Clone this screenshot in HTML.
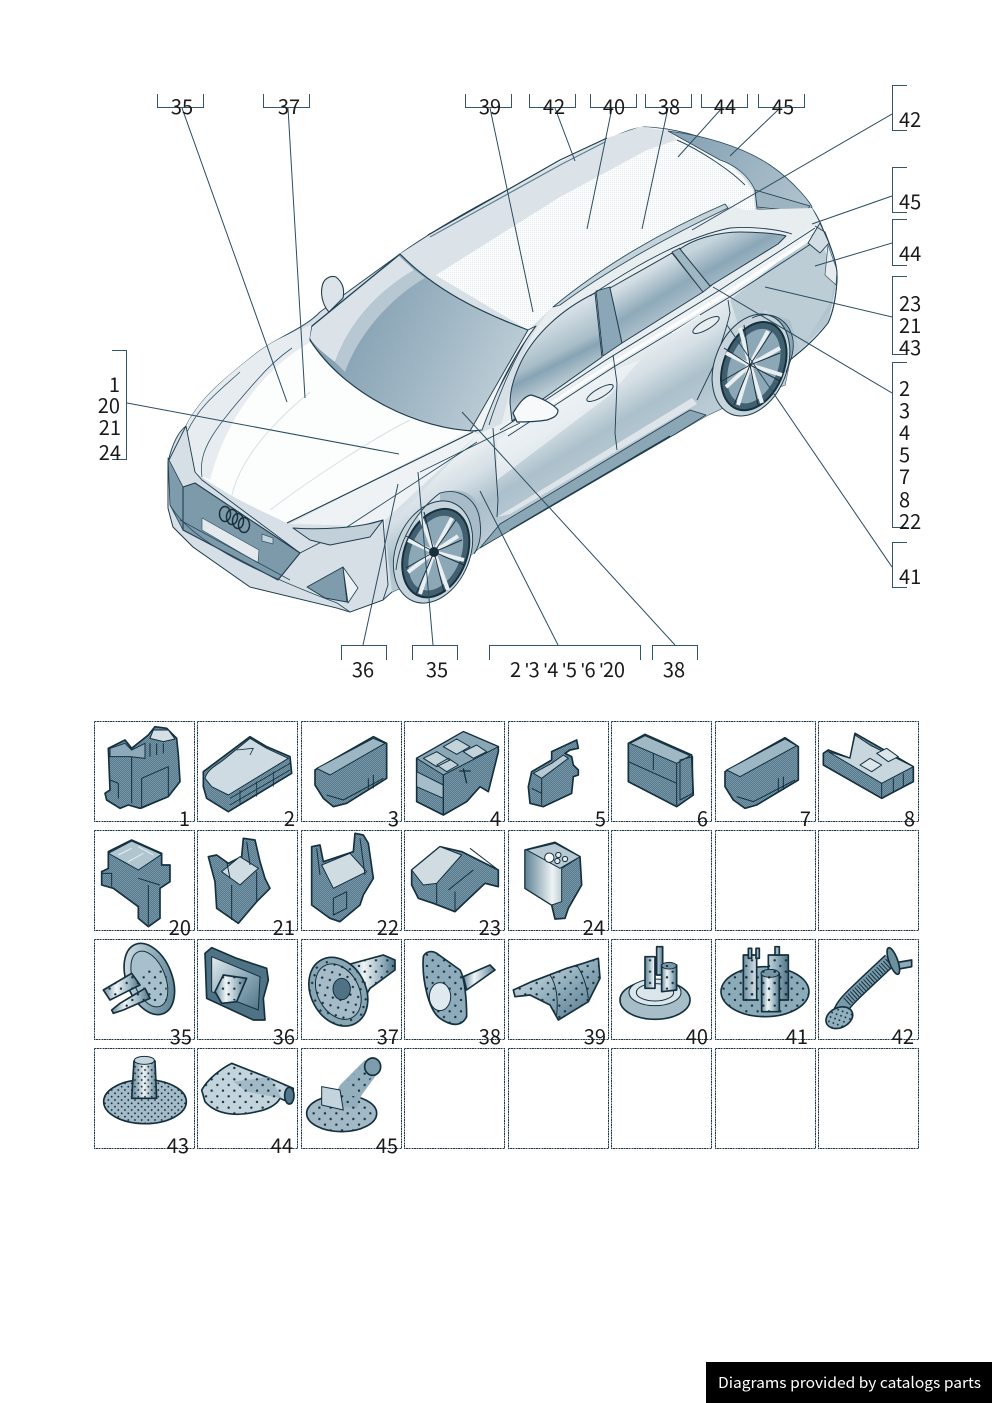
<!DOCTYPE html>
<html lang="en"><head><meta charset="utf-8"><title>Diagram</title>
<style>html,body{margin:0;padding:0;background:#fff}svg{display:block}text{font-family:"Noto Sans CJK SC","Liberation Sans",sans-serif;font-size:20px;fill:#1a1a1a}</style></head>
<body>
<svg xmlns="http://www.w3.org/2000/svg" width="992" height="1403" viewBox="0 0 992 1403">
<defs>
<pattern id="st" width="6" height="6" patternUnits="userSpaceOnUse"><rect width="6" height="6" fill="#7798a8"/><rect width="3" height="3" fill="#57798b"/><rect x="3" y="3" width="3" height="3" fill="#57798b"/></pattern>
<pattern id="dots" width="34" height="34" patternUnits="userSpaceOnUse"><circle cx="8" cy="8" r="3.600" fill="#15303f"/><circle cx="25" cy="25" r="3.600" fill="#15303f"/></pattern>
<pattern id="dots2" width="20" height="20" patternUnits="userSpaceOnUse"><circle cx="5" cy="5" r="2.800" fill="#15303f"/><circle cx="15" cy="15" r="2.800" fill="#15303f"/></pattern>
<pattern id="rf" width="2" height="2" patternUnits="userSpaceOnUse"><rect width="2" height="2" fill="#fcfdfd"/><rect width="1" height="1" fill="#e6ebef"/></pattern>
<linearGradient id="ws" gradientUnits="userSpaceOnUse" x1="350" y1="325" x2="500" y2="400"><stop offset="0" stop-color="#86a2b4"/><stop offset=".5" stop-color="#9fb6c4"/><stop offset="1" stop-color="#bccdd6"/></linearGradient>
<linearGradient id="side" gradientUnits="userSpaceOnUse" x1="620" y1="340" x2="680" y2="440"><stop offset="0" stop-color="#f6f8f9"/><stop offset=".35" stop-color="#d5dfe5"/><stop offset=".6" stop-color="#abc0cb"/><stop offset="1" stop-color="#c0cfd8"/></linearGradient>
<linearGradient id="glass" gradientUnits="userSpaceOnUse" x1="560" y1="310" x2="590" y2="370"><stop offset="0" stop-color="#dce4e9"/><stop offset=".55" stop-color="#a9bec9"/><stop offset=".7" stop-color="#87a3b4"/><stop offset="1" stop-color="#b9cad3"/></linearGradient>
<linearGradient id="glass2" gradientUnits="userSpaceOnUse" x1="640" y1="275" x2="670" y2="325"><stop offset="0" stop-color="#d5dfe5"/><stop offset=".5" stop-color="#8ea9b9"/><stop offset="1" stop-color="#b9cad3"/></linearGradient>
<linearGradient id="glass3" gradientUnits="userSpaceOnUse" x1="720" y1="235" x2="745" y2="280"><stop offset="0" stop-color="#c7d5dc"/><stop offset=".5" stop-color="#8aa6b7"/><stop offset="1" stop-color="#b3c6d0"/></linearGradient>
<linearGradient id="spo" gradientUnits="userSpaceOnUse" x1="690" y1="130" x2="800" y2="210"><stop offset="0" stop-color="#87a3b5"/><stop offset="1" stop-color="#afc2cd"/></linearGradient>
<linearGradient id="rg" x1="0" y1="0" x2="1" y2="0"><stop offset="0" stop-color="#5f8394"/><stop offset=".5" stop-color="#eef3f5"/><stop offset="1" stop-color="#5f8394"/></linearGradient>
<linearGradient id="rg2" x1="0" y1="0" x2="1" y2="1"><stop offset="0" stop-color="#e4ecef"/><stop offset=".55" stop-color="#8aa8b7"/><stop offset="1" stop-color="#507485"/></linearGradient>
<linearGradient id="rg3" x1="0" y1="0" x2="1" y2="0"><stop offset="0" stop-color="#6b8ea0"/><stop offset=".35" stop-color="#f0f5f6"/><stop offset=".7" stop-color="#9fb8c4"/><stop offset="1" stop-color="#4f7385"/></linearGradient>
</defs>
<rect width="992" height="1403" fill="#fff"/>

<!-- CAR -->
<g stroke-linejoin="round">
<path d="M168 462C172 445 178 432 186 426C200 398 225 378 258 352C280 336 305 328 320 312L400 254C455 215 530 178 575 156C600 145 625 128 645 127C680 128 720 142 755 158C790 178 815 205 824 232C832 250 838 265 837 280C836 300 832 315 828 323C815 340 800 352 790 360L785 385L740 400L708 415L677 433L500 530L470 556L392 592L383 600L350 612L337 608L250 587L193 547L173 527L168 508Z" fill="#d6e0e6" stroke="#2a4a5c" stroke-width="1"/>
<!-- roof -->
<path d="M400 254L428 236C480 205 560 160 607 138L640 127C660 127 680 132 700 137L743 177L753 190L755 210L743 210L728 205L553 307L528 330Z" fill="url(#rf)"/>
<path d="M400 254L428 236C480 205 560 160 607 138L640 127L670 131L677 140L647 150L560 197L433 277Z" fill="#dbe3e9"/>
<path d="M668 131C700 135 740 145 770 165C795 182 812 205 812 207L808 211C790 209 770 210 757 209L755 190C748 175 735 165 720 160Z" fill="url(#spo)" stroke="#2a4a5c" stroke-width=".8"/>
<path d="M755 190L810 206L806 212L757 207Z" fill="#9cb3c0" stroke="#1f3d4e" stroke-width=".8"/>
<path d="M677 140C700 150 730 170 745 185" fill="none" stroke="#2a4a5c"/>
<path d="M428 235L560 160L607 138" fill="none" stroke="#1f3d4e" stroke-width="1.2"/>
<path d="M430 237L562 164L605 142" fill="none" stroke="#5f8090" stroke-width="1.2"/>
<!-- side band above windows -->
<path d="M553 307C600 270 660 235 725 205L745 210L812 208L820 224L720 290L606 360L520 420L500 430C510 390 525 335 553 307Z" fill="#e8edf0"/>
<path d="M553 307C600 268 660 232 725 204L728 208C665 238 605 272 560 305Z" fill="#c5d3db" stroke="#2a4a5c" stroke-width=".9"/>
<!-- side body -->
<path d="M478 434L510 420L600 365L720 290L815 226L828 245L837 280L828 323L790 360L785 385L740 400L708 415L677 433L500 530L470 556L392 592L385 530Z" fill="url(#side)"/>
<path d="M730 300L815 232L835 270L832 300L800 350L790 320L765 310L740 330Z" fill="#bccdd6"/>
<path d="M497 440C520 425 590 380 614 370L640 360L610 395L497 480Z" fill="#f0f4f6" opacity=".7"/>
<path d="M500 524L690 410L706 415L677 433L480 548Z" fill="#8ba6b5" stroke="#1f3d4e" stroke-width=".8"/>
<path d="M497 517L692 398L697 404L510 514Z" fill="#dde5ea"/>
<path d="M510 530L670 436" stroke="#1f3d4e" stroke-width="1.300" fill="none"/>
<!-- windows -->
<path d="M595 293C560 310 535 335 522 360C513 378 510 392 510 403L512 421L602 357Z" fill="url(#glass)" stroke="#1f3d4e" stroke-width="1"/>
<path d="M596 291L610 287L622 343L603 356Z" fill="#8ba7b7" stroke="#1f3d4e" stroke-width=".9"/>
<path d="M610 288L672 253L703 292L622 343Z" fill="url(#glass2)" stroke="#1f3d4e" stroke-width="1"/>
<path d="M672 252L680 248L712 285L703 292Z" fill="#9fb6c3" stroke="#1f3d4e" stroke-width=".8"/>
<path d="M680 249C695 238 720 232 740 232C760 232 780 234 786 236L778 244L710 286Z" fill="url(#glass3)" stroke="#1f3d4e" stroke-width="1"/>
<path d="M590 296C640 262 690 236 730 228C755 226 780 230 792 234" fill="none" stroke="#1f3d4e" stroke-width=".9"/>
<!-- belt -->
<path d="M500 430L606 360L720 290L815 228" fill="none" stroke="#1f3d4e" stroke-width=".9"/>
<path d="M508 436L612 368L728 298L820 238" fill="none" stroke="#1f3d4e" stroke-width=".9"/>
<path d="M506 431L610 363L724 293L817 232L819 235L726 296L611 366L507 434Z" fill="#fff"/>
<!-- hood -->
<path d="M186 426C200 398 225 378 258 352C280 336 300 330 312 325L310 340C340 385 410 425 470 431L287 523C255 508 220 492 193 470Z" fill="#fcfdfd"/>
<path d="M186 426C200 398 225 378 258 352C280 336 300 330 312 325L318 338C275 360 230 405 210 480L193 470Z" fill="#e6ecf0"/>
<path d="M470 431L478 434L385 520L385 528L330 525L290 524Z" fill="#eef2f5"/>
<path d="M287 523L473 432" fill="none" stroke="#1f3d4e" stroke-width="1.100"/>
<path d="M347 527L477 442M420 472L520 423" fill="none" stroke="#2a4a5c" stroke-width=".9"/>
<path d="M202 477C198 450 213 430 257 380C270 365 282 355 292 348M187 432C186 455 190 465 195 472M187 432C200 405 218 392 240 372" fill="none" stroke="#33566a" stroke-width=".8"/>
<path d="M232 495C240 460 270 425 310 392M270 510C310 480 370 440 410 420" fill="none" stroke="#d7e0e6" stroke-width="1"/>
<!-- windshield -->
<path d="M400 254C435 290 480 312 528 330C515 360 495 395 476 431C420 430 345 395 310 340L312 326Z" fill="url(#ws)" stroke="#1f3d4e" stroke-width="1.200"/>
<path d="M399 256L414 270C380 290 350 320 335 362C322 352 314 345 310 338L312 327Z" fill="#dbe3e9"/>
<path d="M414 270C380 290 350 320 335 362L345 372C360 330 395 295 425 278Z" fill="#b7c8d2"/>
<!-- A pillar -->
<path d="M528 330L536 326C510 360 495 395 482 430L470 431Z" fill="#f1f4f6" stroke="#1f3d4e" stroke-width=".9"/>
<path d="M536 326C520 345 500 390 489 425" fill="none" stroke="#1f3d4e" stroke-width=".8"/>
<!-- left mirror -->
<path d="M322 287C323 279 330 275 336 277C342 282 345 288 343 298L329 312C325 308 320 298 322 287Z" fill="#dce4e9" stroke="#1f3d4e" stroke-width="1.100"/>
<!-- right mirror -->
<path d="M513 413C518 405 524 396 531 395C542 398 553 404 558 410C558 416 553 418 547 420C535 422 525 422 517 422Z" fill="#f7f9fa" stroke="#1f3d4e" stroke-width="1.200"/>
<!-- door lines -->
<path d="M493 428L498 500L497 517M613 355L617 383L615 433L617 450M728 300L730 313C725 335 718 352 713 367L697 400" fill="none" stroke="#1f3d4e" stroke-width=".9"/>
<ellipse cx="600" cy="393" rx="15" ry="4.500" transform="rotate(-30 600 393)" fill="#e8edf0" stroke="#1f3d4e"/>
<ellipse cx="706" cy="325" rx="15" ry="4.500" transform="rotate(-30 706 325)" fill="#e8edf0" stroke="#1f3d4e"/>
<path d="M672 333L700 315" stroke="#fff" stroke-width="1"/>
<!-- front end -->
<path d="M168 462L186 426L195 472L202 480L300 553L345 530L383 520L388 585L383 600L350 612L337 608L250 587L193 547L173 527L168 508Z" fill="#d5dfe5" stroke="#1f3d4e" stroke-width=".9"/>
<path d="M168 458L183 487L183 530L170 505Z" fill="#7f9cad" stroke="#1f3d4e" stroke-width=".8"/>
<path d="M183 487L195 483L300 553L278 580L183 530Z" fill="#7d9aab" stroke="#1f3d4e" stroke-width="1.100"/>
<path d="M202 518L259 550L258 563L202 530Z" fill="#e4e9ed" stroke="#33566a" stroke-width=".7"/>
<g fill="none" stroke="#1a2f3c" stroke-width="1.500"><ellipse cx="225" cy="514" rx="5.500" ry="7.500"/><ellipse cx="232" cy="517" rx="5.500" ry="7.500"/><ellipse cx="238" cy="521" rx="5.500" ry="7.500"/><ellipse cx="244" cy="525" rx="5.500" ry="7.500"/></g>
<path d="M262 534L273 538L273 544L262 541Z" fill="#c5d3db" stroke="#33566a" stroke-width=".7"/>
<path d="M293 528C320 530 360 528 383 520L370 537L330 545L310 540Z" fill="#c2d0d9" stroke="#1f3d4e" stroke-width="1"/>
<path d="M307 587L343 567L347 602L325 598Z" fill="#7f9cad" stroke="#1f3d4e" stroke-width="1"/>
<path d="M343 567L358 588L348 603Z" fill="#eef2f5" stroke="#1f3d4e" stroke-width=".8"/>
<path d="M170 505C190 540 250 570 337 603L350 612M180 520L290 580" fill="none" stroke="#2a4a5c" stroke-width=".8"/>
<!-- front wheel -->
<path d="M440 493C455 488 472 490 478 505C485 525 480 545 475 553L470 556L440 580Z" fill="#a7bcc8"/>
<g transform="rotate(22 433 552)"><ellipse cx="433" cy="552" rx="37" ry="53" fill="#c7d4db" stroke="#1f3d4e"/><ellipse cx="436" cy="552" rx="31" ry="46" fill="#425f70" stroke="#15303f" stroke-width="2"/><ellipse cx="436" cy="552" rx="25" ry="39" fill="#8ca7b6"/></g>
<g stroke="#e9eef1" stroke-width="4" fill="none"><path d="M434 552L452 518M434 552L458 536M434 552L464 560M434 552L448 590M434 552L420 594M434 552L408 572M434 552L408 540M434 552L420 515"/></g>
<g stroke="#1a2f3c" stroke-width="1" fill="none"><path d="M434 552L456 520M434 552L462 540M434 552L464 565M434 552L444 592M434 552L416 594M434 552L406 568M434 552L406 536M434 552L424 512"/></g>
<circle cx="434" cy="552" r="5" fill="#1a2f3c"/>
<path d="M440 493C460 487 478 500 480 522C482 538 478 548 474 554M396 570C400 535 420 508 440 493" fill="none" stroke="#1f3d4e" stroke-width=".9"/>
<!-- rear wheel -->
<path d="M752 318C770 310 790 318 792 340C795 352 790 362 786 372L770 390Z" fill="#8ba6b5"/>
<g transform="rotate(22 751 365)"><ellipse cx="751" cy="365" rx="36" ry="53" fill="#c7d4db" stroke="#1f3d4e"/><ellipse cx="754" cy="365" rx="30" ry="46" fill="#40606f" stroke="#15303f" stroke-width="2"/><ellipse cx="754" cy="365" rx="24" ry="39" fill="#8ca7b6"/></g>
<g stroke="#e9eef1" stroke-width="4" fill="none"><path d="M750 365L768 331M750 365L780 348M750 365L782 375M750 365L762 403M750 365L738 405M750 365L726 387M750 365L726 353M750 365L740 328"/></g>
<g stroke="#1a2f3c" stroke-width="1" fill="none"><path d="M750 365L772 331M750 365L780 353M750 365L780 381M750 365L758 405M750 365L734 405M750 365L722 381M750 365L724 348M750 365L744 325"/></g>
<path d="M752 318C772 308 796 322 793 350C792 358 790 362 786 372" fill="none" stroke="#1f3d4e" stroke-width=".9"/>
<!-- tail -->
<path d="M820 223L808 243L820 253L829 243Z" fill="#d3dee4" stroke="#1f3d4e" stroke-width=".9"/>
<path d="M828 245L837 270L836 285L825 275Z" fill="#e5ebef" stroke="#33566a" stroke-width=".7"/>
<path d="M815 226L825 232C832 250 838 265 837 280C836 300 832 315 828 323C815 340 800 352 790 360" fill="none" stroke="#1f3d4e" stroke-width=".9"/>
</g>

<!-- leaders -->
<g stroke="#2c4d60" stroke-width="1" fill="none">
<path d="M182 108L287 402M288 108L305 398M490 108L533 312M555 108L575 161M612 108L587 229M668 108L642 229M722 108L678 157M780 108L730 156"/>
<path d="M892 114L692 230M892 196L812 224M892 243L815 266M892 317L765 287M892 393L713 287M892 567L727 325M127 403L399 454"/>
<path d="M363 645L398 484M433 645L418 472M558 645L480 491M675 645L462 412"/>
</g>
<!-- brackets -->
<g stroke="#33566a" stroke-width="1" fill="none" shape-rendering="crispEdges">
<path d="M157.500 94V107.500H203.500V94M263.500 94V107.500H309.500V94M465.500 94V107.500H511.500V94M529.500 94V107.500H575.500V94M590.500 94V107.500H636.500V94M645.500 94V107.500H691.500V94M701.500 94V107.500H747.500V94M758.500 94V107.500H804.500V94"/>
<path d="M907 85.500H892.500V130.500H907M907 167.500H892.500V212.500H907M907 219.500H892.500V265.500H907M907 276.500H892.500V354.500H907M907 362.500H892.500V527.500H907M907 542.500H892.500V587.500H907"/>
<path d="M112 350.500H126.500V459.500H112"/>
<path d="M341.500 660V645.500H386.500V660M412.500 660V645.500H457.500V660M489.500 660V645.500H640.500V660M652.500 660V645.500H697.500V660"/>
</g>
<!-- top labels -->
<g text-anchor="middle">
<text x="182" y="114">35</text><text x="289" y="114">37</text><text x="490" y="114">39</text><text x="554" y="114">42</text><text x="614" y="114">40</text><text x="669" y="114">38</text><text x="725" y="114">44</text><text x="783" y="114">45</text>
<text x="363" y="677">36</text><text x="437" y="677">35</text><text x="674" y="677">38</text>
</g>
<text x="510" y="677" textLength="115">2 ʹ3 ʹ4 ʹ5 ʹ6 ʹ20</text>
<g>
<text x="899" y="127">42</text><text x="899" y="209">45</text><text x="899" y="261">44</text><text x="899" y="311">23</text><text x="899" y="333">21</text><text x="899" y="355">43</text>
<text x="899" y="396">2</text><text x="899" y="418">3</text><text x="899" y="440">4</text><text x="899" y="462">5</text><text x="899" y="484">7</text><text x="899" y="507">8</text><text x="899" y="529">22</text><text x="899" y="584">41</text>
</g>
<g text-anchor="end">
<text x="120" y="392">1</text><text x="120" y="413">20</text><text x="121" y="435">21</text><text x="121" y="460">24</text>
</g>

<!-- grid -->
<g fill="#fff" stroke="#1c3a4b" stroke-width="1" stroke-dasharray="2 .6" shape-rendering="crispEdges">
<rect x="94.500" y="721.500" width="100" height="100"/><rect x="197.500" y="721.500" width="100" height="100"/><rect x="301.500" y="721.500" width="100" height="100"/><rect x="404.500" y="721.500" width="100" height="100"/><rect x="508.500" y="721.500" width="100" height="100"/><rect x="611.500" y="721.500" width="100" height="100"/><rect x="715.500" y="721.500" width="100" height="100"/><rect x="818.500" y="721.500" width="100" height="100"/>
<rect x="94.500" y="830.500" width="100" height="100"/><rect x="197.500" y="830.500" width="100" height="100"/><rect x="301.500" y="830.500" width="100" height="100"/><rect x="404.500" y="830.500" width="100" height="100"/><rect x="508.500" y="830.500" width="100" height="100"/><rect x="611.500" y="830.500" width="100" height="100"/><rect x="715.500" y="830.500" width="100" height="100"/><rect x="818.500" y="830.500" width="100" height="100"/>
<rect x="94.500" y="939.500" width="100" height="100"/><rect x="197.500" y="939.500" width="100" height="100"/><rect x="301.500" y="939.500" width="100" height="100"/><rect x="404.500" y="939.500" width="100" height="100"/><rect x="508.500" y="939.500" width="100" height="100"/><rect x="611.500" y="939.500" width="100" height="100"/><rect x="715.500" y="939.500" width="100" height="100"/><rect x="818.500" y="939.500" width="100" height="100"/>
<rect x="94.500" y="1048.500" width="100" height="100"/><rect x="197.500" y="1048.500" width="100" height="100"/><rect x="301.500" y="1048.500" width="100" height="100"/><rect x="404.500" y="1048.500" width="100" height="100"/><rect x="508.500" y="1048.500" width="100" height="100"/><rect x="611.500" y="1048.500" width="100" height="100"/><rect x="715.500" y="1048.500" width="100" height="100"/><rect x="818.500" y="1048.500" width="100" height="100"/>
</g>

<!-- parts row 1-2 left -->
<g transform="translate(90 715) scale(.33333)" stroke="#14303f" stroke-width="5" stroke-linejoin="round">
<!-- 1 -->
<path d="M55 100L105 75L125 100L175 60L195 35L230 40L260 70L265 120L270 200L235 245L150 280L115 270L90 280L50 255L45 235L60 225Z" fill="url(#st)"/>
<path d="M125 100V265M155 190L235 155V245L155 280Z" fill="none" stroke-width="3"/>
<path d="M190 45L235 45L255 72L220 80L180 70Z" fill="#d5e0e6" stroke-width="3"/>
<path d="M60 100L105 85L125 105L165 85V130L120 125L60 125Z" fill="#8eaaba" stroke-width="3"/>
<path d="M180 85V125M200 85V120M220 85V115M60 195L85 205V250" fill="none" stroke-width="3"/>
<!-- 2 -->
<path d="M340 170L480 65L530 95L600 125L605 175L415 290L350 250L340 215Z" fill="url(#st)"/>
<path d="M345 190C350 165 380 150 400 135L480 70L530 100L595 130L415 240L365 215Z" fill="#cfdbe2" stroke-width="3"/>
<path d="M420 250L600 145M420 270L600 165M450 225V270M500 200V245M550 170V215M440 105L490 100L480 120" fill="none" stroke-width="2.500"/>
<!-- 3 -->
<path d="M675 165L850 65L890 85L890 190L770 265L730 275L700 250L675 210Z" fill="url(#st)"/>
<path d="M680 160L850 70L885 85L720 180Z" fill="#9db6c3" stroke-width="3"/>
<path d="M710 240L760 255L880 190M835 190V225M850 180V220" fill="none" stroke-width="3"/>
<!-- 4 -->
<path d="M980 130L1120 50L1225 95L1225 110L1195 230L1170 215L1130 260L1060 300L980 260Z" fill="url(#st)"/>
<path d="M980 130L1120 50L1225 95L1060 180Z" fill="#8aa7b6" stroke-width="3"/>
<path d="M1000 130L1040 110L1080 135L1040 155ZM1040 150L1075 130L1105 150L1070 170ZM1060 95L1100 72L1140 95L1100 118ZM1120 110L1160 90L1190 110L1150 130Z" fill="#c3d3da" stroke-width="3"/>
<path d="M980 170L1060 210V250L980 215Z" fill="#a5bdc9" stroke-width="3"/>
<path d="M1060 180V300M1120 160L1130 205M1108 168H1142" fill="none" stroke-width="4"/>
<!-- 20 -->
<path d="M55 410L125 375L215 415V450H240V500L210 520V610L175 635L145 610V575L70 520L35 510V470L55 460Z" fill="url(#st)"/>
<path d="M55 415L125 378L215 418L145 465Z" fill="#afc5d0" stroke-width="3"/>
<path d="M85 420L125 400M115 440L160 415M145 395L190 420" fill="none" stroke="#e8eef1" stroke-width="3"/>
<path d="M145 490L210 510M175 510V630M35 475H65V515" fill="none" stroke-width="3"/>
<!-- 21 -->
<path d="M355 425L380 420L415 445L455 425L460 370L495 375L510 440L525 490L540 520L500 560L445 625L380 580L375 500Z" fill="url(#st)"/>
<path d="M395 470L450 425L505 460L450 510Z" fill="#cfdde3" stroke-width="3"/>
<path d="M425 510V615M500 470V560M410 440L420 490M470 380L480 450" fill="none" stroke-width="3"/>
<!-- 22 -->
<path d="M665 395L690 390L700 440L790 410L795 355L820 360L835 385L850 490L820 540L810 570L750 620L720 610L665 570Z" fill="url(#st)"/>
<path d="M695 450L780 415L830 470L730 520Z" fill="#cfdde3" stroke-width="3"/>
<path d="M730 550L770 530V580L730 600ZM810 370L825 480M680 400L690 480" fill="none" stroke-width="3"/>
<!-- 23 -->
<path d="M965 465L1050 395L1115 410L1225 465V515L1185 505L1095 590L1030 565L985 550L965 510Z" fill="url(#st)"/>
<path d="M965 465L1050 395L1115 420L1040 505L1000 510Z" fill="#d0dce2" stroke-width="3"/>
<path d="M1075 525L1150 465M1140 400L1225 465M1040 505V565M1095 530V590" fill="none" stroke-width="3"/>
</g>
<!-- parts 5-8, 24 -->
<g transform="translate(500 715) scale(.33333)" stroke="#14303f" stroke-width="5" stroke-linejoin="round">
<path d="M95 170L155 135V110L230 75L235 100L210 105L195 115L215 125L220 150L235 165V180L220 185L215 235L130 275L90 265L85 215Z" fill="url(#st)"/>
<path d="M100 175L155 145L190 120L205 130L125 190Z" fill="#b7cad4" stroke-width="3"/>
<path d="M125 190V270M95 220L125 235" fill="none" stroke-width="3"/>
<path d="M385 85L435 58L575 120L580 240L530 275L385 200Z" fill="url(#st)"/>
<path d="M390 85L435 62L570 122L530 145Z" fill="#9fb8c4" stroke-width="3"/>
<path d="M385 140L530 205M530 145V270M460 115V165" fill="none" stroke-width="3"/>
<path d="M540 135L578 125V235L540 255Z" fill="none" stroke-width="3"/>
<path d="M675 170L855 68L895 95V195L770 270L735 280L700 255L675 215Z" fill="url(#st)"/>
<path d="M680 165L855 72L890 92L720 185Z" fill="#9db6c3" stroke-width="3"/>
<path d="M710 245L760 260L885 195M835 190V230M850 185V225" fill="none" stroke-width="3"/>
<path d="M970 115L985 105L1050 130L1065 55L1240 155V200L1145 250L970 150Z" fill="url(#st)"/>
<path d="M1050 130L1065 60L1110 90L1240 155L1145 205L985 110Z" fill="#c8d6dd" stroke-width="3"/>
<path d="M1145 205V250M1180 190V232M1210 175V215" fill="none" stroke-width="3"/>
<path d="M1080 150L1110 130L1145 150L1115 170ZM1130 115L1160 100L1195 125L1165 140Z" fill="#dce6ea" stroke-width="3"/>
<!-- 24 -->
<path d="M75 405L165 382L240 425L245 510L205 580L195 610L165 612L155 570L75 520Z" fill="url(#st)"/>
<path d="M75 405L165 382L240 425L185 460V560L155 570L75 520Z" fill="url(#rg)" stroke-width="3"/>
<path d="M80 405L165 385L240 425L180 460Z" fill="#b7cad4" stroke-width="3"/>
<circle cx="148" cy="428" r="14" fill="#fff" stroke-width="3"/><circle cx="175" cy="420" r="8" fill="#e3eaee" stroke-width="3"/><circle cx="195" cy="432" r="8" fill="#e3eaee" stroke-width="3"/><circle cx="172" cy="438" r="8" fill="#e3eaee" stroke-width="3"/>
</g>
<!-- round parts row 3-4 left -->
<g transform="translate(90 935) scale(.33333)" stroke="#14303f" stroke-width="5" stroke-linejoin="round">
<!-- 35 -->
<ellipse cx="178" cy="132" rx="68" ry="112" transform="rotate(-22 178 132)" fill="url(#rg2)"/>
<ellipse cx="178" cy="132" rx="48" ry="88" transform="rotate(-22 178 132)" fill="#a8c0cb" stroke-width="3"/>
<path d="M40 165L125 115L150 150L60 195Z" fill="url(#rg3)"/>
<path d="M65 225L90 205L165 160L180 190L100 225L70 235Z" fill="url(#rg3)"/>
<path d="M40 165L125 115L150 150L60 195ZM90 205L165 160L180 190L100 225ZM150 110L230 100V200L170 210Z" fill="url(#dots)" stroke="none"/>
<!-- 36 -->
<path d="M345 55L365 38L440 70L530 100L535 135L520 190L525 255L490 255L350 190Z" fill="#4f7385"/>
<path d="M365 65L510 125L505 225L365 170Z" fill="url(#rg2)" stroke-width="3"/>
<path d="M375 170L400 120L470 130L440 200L395 205Z" fill="url(#rg3)"/>
<path d="M375 170L400 120L470 130L440 200Z" fill="url(#dots)" stroke="none"/>
<!-- 37 -->
<path d="M770 90L880 60L915 75L915 105L840 160L800 230Z" fill="url(#rg3)"/>
<path d="M770 90L880 60L915 75L915 105L840 160L800 230Z" fill="url(#dots)" stroke="none"/>
<ellipse cx="745" cy="170" rx="82" ry="108" transform="rotate(-28 745 170)" fill="#89a6b5"/>
<ellipse cx="745" cy="170" rx="62" ry="88" transform="rotate(-28 745 170)" fill="#a5bcc8" stroke-width="3"/>
<ellipse cx="745" cy="170" rx="82" ry="108" transform="rotate(-28 745 170)" fill="url(#dots)" stroke="none"/>
<ellipse cx="755" cy="162" rx="26" ry="32" fill="#4f7385" stroke-width="3"/>
<!-- 38 -->
<path d="M1120 125L1200 90L1215 105L1130 165Z" fill="url(#rg3)"/>
<path d="M1000 65C1005 50 1025 45 1040 55L1110 105C1125 130 1130 200 1130 245C1115 275 1085 275 1050 250C1015 225 995 130 1000 65Z" fill="#8dabba"/>
<path d="M1000 65C1005 50 1025 45 1040 55L1110 105C1125 130 1130 200 1130 245C1115 275 1085 275 1050 250C1015 225 995 130 1000 65Z" fill="url(#dots)" stroke="none"/>
<ellipse cx="1050" cy="185" rx="32" ry="42" fill="#e0e9ed" stroke-width="3"/>
<!-- 43 -->
<ellipse cx="165" cy="500" rx="124" ry="66" fill="#a5bcc8"/>
<ellipse cx="165" cy="500" rx="124" ry="66" fill="url(#dots2)" stroke="none"/>
<path d="M132 378H195L200 490H125Z" fill="url(#rg)"/>
<path d="M132 378H195L200 490H125Z" fill="url(#dots2)" stroke="none"/>
<ellipse cx="163" cy="376" rx="30" ry="12" fill="#c7d6dd" stroke-width="3"/>
<!-- 44 -->
<path d="M335 465C355 430 395 400 425 385L540 430L610 460L605 505L570 490C560 510 530 525 500 530C440 545 380 540 345 500Z" fill="#c4d4dc"/>
<path d="M430 440L540 425L575 490L470 470Z" fill="#8aa8b7" opacity=".6" stroke="none"/>
<path d="M335 465C355 430 395 400 425 385L540 430L610 460L605 505L570 490C560 510 530 525 500 530C440 545 380 540 345 500Z" fill="url(#dots)" stroke="none"/>
<ellipse cx="598" cy="482" rx="14" ry="25" fill="#54788a"/>
<!-- 45 -->
<ellipse cx="755" cy="535" rx="105" ry="55" fill="#a3bac6"/>
<path d="M750 450L825 375L870 405L815 480L800 520L720 510Z" fill="#93aebc" stroke="none"/>
<ellipse cx="755" cy="535" rx="105" ry="55" fill="url(#dots)" stroke="none"/>
<path d="M760 450L825 385L860 405L810 480Z" fill="url(#dots)" stroke="none"/>
<path d="M695 455L750 465L760 525L695 510Z" fill="#c4d4dc" stroke-width="3"/>
<ellipse cx="848" cy="395" rx="24" ry="26" fill="#7d9dac"/>
</g>
<!-- 39-42 -->
<g transform="translate(500 935) scale(.33333)" stroke="#14303f" stroke-width="5" stroke-linejoin="round">
<path d="M40 165L95 140L200 100L250 85L295 70L300 130L265 200L175 255L150 210L90 180L45 185Z" fill="url(#rg2)"/>
<path d="M150 120C170 150 175 190 170 240M230 90C250 120 260 150 265 190" fill="none" stroke-width="3"/>
<path d="M40 165L95 140L200 100L250 85L295 70L300 130L265 200L175 255L150 210L90 180L45 185Z" fill="url(#dots)" stroke="none"/>
<!-- 40 -->
<ellipse cx="465" cy="195" rx="105" ry="58" fill="#a7bec9"/>
<ellipse cx="465" cy="172" rx="78" ry="40" fill="#dbe6ea" stroke-width="3"/>
<ellipse cx="465" cy="172" rx="56" ry="26" fill="none" stroke-width="3"/>
<path d="M435 65H465V160H435ZM470 35H488V120H470Z" fill="url(#rg)"/>
<path d="M485 90H530V165L485 170Z" fill="url(#rg3)"/>
<ellipse cx="507" cy="92" rx="22" ry="10" fill="#7796a6" stroke-width="3"/>
<path d="M435 65H465V160H435ZM485 90H530V165H485Z" fill="url(#dots)" stroke="none"/>
<!-- 41 -->
<ellipse cx="795" cy="170" rx="132" ry="75" fill="#8cabb9"/>
<path d="M730 60H770V195H730ZM805 60H865V195H805Z" fill="url(#rg3)"/>
<path d="M745 40H755V70H745ZM768 40H778V70H768ZM825 35H838V60H825Z" fill="#9db6c3"/>
<path d="M785 115H838V230H785Z" fill="url(#rg3)"/>
<ellipse cx="810" cy="115" rx="27" ry="12" fill="#7796a6" stroke-width="3"/>
<ellipse cx="795" cy="170" rx="132" ry="75" fill="url(#dots)" stroke="none"/>
<path d="M730 60H770V195H730ZM805 60H865V195H805Z" fill="url(#dots)" stroke="none"/>
<!-- 42 -->
<path d="M1015 250C1020 210 1060 180 1090 150L1170 75" fill="none" stroke-width="44"/>
<path d="M1015 250C1020 210 1060 180 1090 150L1170 75" fill="none" stroke="#7a9aa9" stroke-width="35"/>
<path d="M1040 200L1170 80" fill="none" stroke="#14303f" stroke-width="30" stroke-dasharray="3 6"/>
<ellipse cx="1018" cy="248" rx="42" ry="30" transform="rotate(-25 1018 248)" fill="#93b0be"/>
<ellipse cx="1018" cy="248" rx="42" ry="30" transform="rotate(-25 1018 248)" fill="url(#dots2)" stroke="none"/>
<path d="M1175 85L1235 75V95L1180 105Z" fill="#8dabb9"/>
<ellipse cx="1180" cy="78" rx="13" ry="42" transform="rotate(-20 1180 78)" fill="#6d909f"/>
</g>

<!-- part numbers -->
<g text-anchor="end">
<text x="190" y="826">1</text><text x="295" y="826">2</text><text x="399" y="826">3</text><text x="501" y="826">4</text><text x="606" y="826">5</text><text x="708" y="826">6</text><text x="811" y="826">7</text><text x="915" y="826">8</text>
<text x="191" y="935">20</text><text x="295" y="935">21</text><text x="399" y="935">22</text><text x="501" y="935">23</text><text x="605" y="935">24</text>
<text x="192" y="1044">35</text><text x="295" y="1044">36</text><text x="399" y="1044">37</text><text x="501" y="1044">38</text><text x="606" y="1044">39</text><text x="708" y="1044">40</text><text x="808" y="1044">41</text><text x="914" y="1044">42</text>
<text x="189" y="1153">43</text><text x="293" y="1153">44</text><text x="398" y="1153">45</text>
</g>

<!-- footer -->
<rect x="706" y="1362" width="286" height="41" fill="#000"/>
<text x="718" y="1388" textLength="263" lengthAdjust="spacingAndGlyphs" style="font-size:15px;fill:#fff">Diagrams provided by catalogs parts</text>
</svg>
</body></html>
